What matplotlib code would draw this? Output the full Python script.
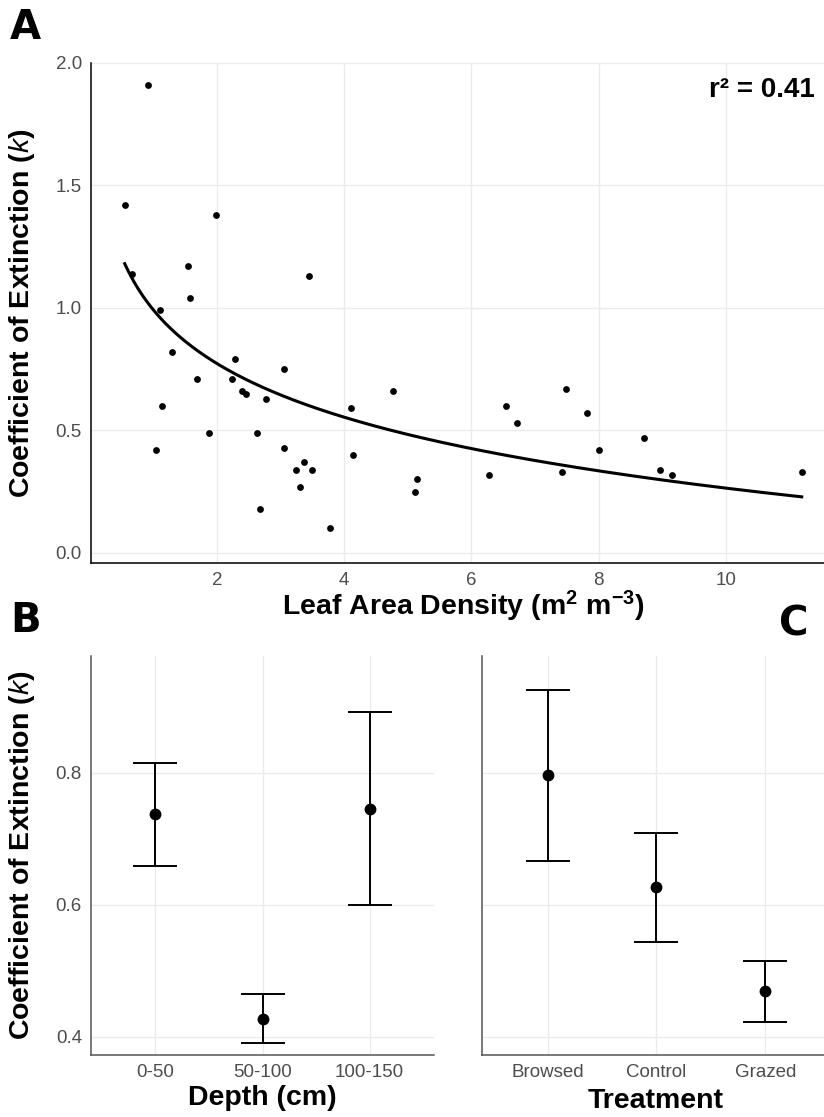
import numpy as np
import matplotlib
matplotlib.use("Agg")
import matplotlib.pyplot as plt

plt.rcParams['font.family'] = ['Liberation Sans', 'DejaVu Sans']
plt.rcParams['mathtext.fontset'] = 'custom'
plt.rcParams['mathtext.rm'] = 'Liberation Sans'
plt.rcParams['mathtext.it'] = 'Liberation Sans:italic'
plt.rcParams['mathtext.bf'] = 'Liberation Sans:bold'

# ---- Panel A data ----
lad = [0.92, 0.55, 1.99, 0.66, 1.55, 3.44, 1.58, 1.11, 1.29, 1.69, 1.13, 1.04,
       1.88, 2.29, 2.23, 2.40, 2.46, 2.77, 2.63, 3.05, 3.05, 3.24, 3.37, 3.50,
       3.30, 2.67, 3.77, 4.10, 4.13, 4.76, 5.15, 5.11, 6.28, 6.54, 6.71, 7.49,
       7.81, 7.42, 8.01, 8.71, 8.96, 9.15, 11.19]
k_vals = [1.91, 1.42, 1.38, 1.14, 1.17, 1.13, 1.04, 0.99, 0.82, 0.71, 0.60, 0.42,
          0.49, 0.79, 0.71, 0.66, 0.65, 0.63, 0.49, 0.75, 0.43, 0.34, 0.37, 0.34,
          0.27, 0.18, 0.10, 0.59, 0.40, 0.66, 0.30, 0.25, 0.32, 0.60, 0.53, 0.67,
          0.57, 0.33, 0.42, 0.47, 0.34, 0.32, 0.33]
fit_intercept = 0.992
fit_slope = -0.316
r2_text = "r² = 0.41"

# ---- Panel B data ----
depth_cats = ["0-50", "50-100", "100-150"]
depth_mean = [0.737, 0.427, 0.745]
depth_low = [0.659, 0.390, 0.600]
depth_high = [0.815, 0.464, 0.892]

# ---- Panel C data ----
treat_cats = ["Browsed", "Control", "Grazed"]
treat_mean = [0.797, 0.627, 0.469]
treat_low = [0.667, 0.544, 0.422]
treat_high = [0.926, 0.709, 0.515]

W, H = 824, 1117
fig = plt.figure(figsize=(W / 100, H / 100), dpi=100)

def frac(left, top, right, bottom):
    return [left / W, 1 - bottom / H, (right - left) / W, (bottom - top) / H]

GRID = '#EBEBEB'
TICKC = '#4D4D4D'
LABFS = 20.5
TICKFS = 13.5
ylab = r'Coefficient of Extinction ($\mathit{k}$)'

def style(ax, spine_color):
    for s in ['top', 'right']:
        ax.spines[s].set_visible(False)
    for s in ['left', 'bottom']:
        ax.spines[s].set_color(spine_color)
        ax.spines[s].set_linewidth(1.1)
    ax.grid(True, color=GRID, linewidth=1.0)
    ax.set_axisbelow(True)
    ax.tick_params(length=0, labelsize=TICKFS, labelcolor=TICKC, pad=6.5)

# ---- Panel A ----
axA = fig.add_axes(frac(91, 63, 824, 562.7))
style(axA, '#000000')
axA.scatter(lad, k_vals, s=24, color='black', zorder=3, linewidths=0)
xs = np.linspace(min(lad), max(lad), 300)
axA.plot(xs, fit_intercept + fit_slope * np.log(xs), color='black', lw=2.2, zorder=4)
axA.set_xlim(0.02, 11.54)
axA.set_ylim(-0.04, 2.0)
axA.set_xticks([2, 4, 6, 8, 10])
axA.set_yticks([0.0, 0.5, 1.0, 1.5, 2.0])
axA.set_yticklabels(['0.0', '0.5', '1.0', '1.5', '2.0'])
axA.tick_params(axis='x', pad=6.5)
axA.set_xlabel(r'Leaf Area Density ($\mathbf{m^{2}\ m^{-3}}$)',
               fontsize=LABFS, fontweight='bold', va='center')
axA.xaxis.set_label_coords(0.5075, -0.087)
axA.set_ylabel(ylab, fontsize=LABFS, fontweight='bold', va='center')
axA.yaxis.set_label_coords((22.5 - 91) / 733, 0.5)
axA.text(0.9875, 0.945, r2_text, transform=axA.transAxes, ha='right', va='center',
         fontsize=20, fontweight='bold')

# ---- Panel B ----
axB = fig.add_axes(frac(91, 656, 434, 1054.5))
style(axB, '#555555')
xb = np.arange(1, len(depth_cats) + 1)
mb = np.array(depth_mean)
axB.errorbar(xb, mb, yerr=[mb - np.array(depth_low), np.array(depth_high) - mb],
             fmt='o', color='black', ms=7.5, elinewidth=1.4, capsize=15.5,
             capthick=1.4, zorder=3)
axB.set_xlim(0.4, 3.6)
axB.set_ylim(0.373, 0.977)
axB.set_xticks(xb)
axB.set_xticklabels(depth_cats)
axB.set_yticks([0.4, 0.6, 0.8])
axB.set_yticklabels(['0.4', '0.6', '0.8'])
axB.set_xlabel('Depth (cm)', fontsize=LABFS, fontweight='bold', va='center')
axB.xaxis.set_label_coords(0.5, (1054.5 - 1098) / 398.5)
axB.set_ylabel(ylab, fontsize=LABFS, fontweight='bold', va='center')
axB.yaxis.set_label_coords((22.5 - 91) / 343, 0.5)

# ---- Panel C ----
axC = fig.add_axes(frac(482.3, 656, 824, 1054.5))
style(axC, '#555555')
xc = np.arange(1, len(treat_cats) + 1)
mc = np.array(treat_mean)
axC.errorbar(xc, mc, yerr=[mc - np.array(treat_low), np.array(treat_high) - mc],
             fmt='o', color='black', ms=7.5, elinewidth=1.4, capsize=15.5,
             capthick=1.4, zorder=3)
axC.set_xlim(0.4, 3.54)
axC.set_ylim(0.373, 0.977)
axC.set_xticks(xc)
axC.set_xticklabels(treat_cats)
axC.set_yticks([0.4, 0.6, 0.8])
axC.set_yticklabels([])
axC.set_xlabel('Treatment', fontsize=LABFS, fontweight='bold', va='center')
axC.xaxis.set_label_coords(0.508, (1054.5 - 1101) / 398.5)

# ---- Panel letters ----
for letter, x, y in [('A', 10, 28), ('B', 10, 621), ('C', 779, 624)]:
    fig.text(x / W, 1 - y / H, letter, fontsize=29, fontweight='heavy',
             family=['DejaVu Sans'], ha='left', va='center')

fig.savefig('out.png', dpi=100)
